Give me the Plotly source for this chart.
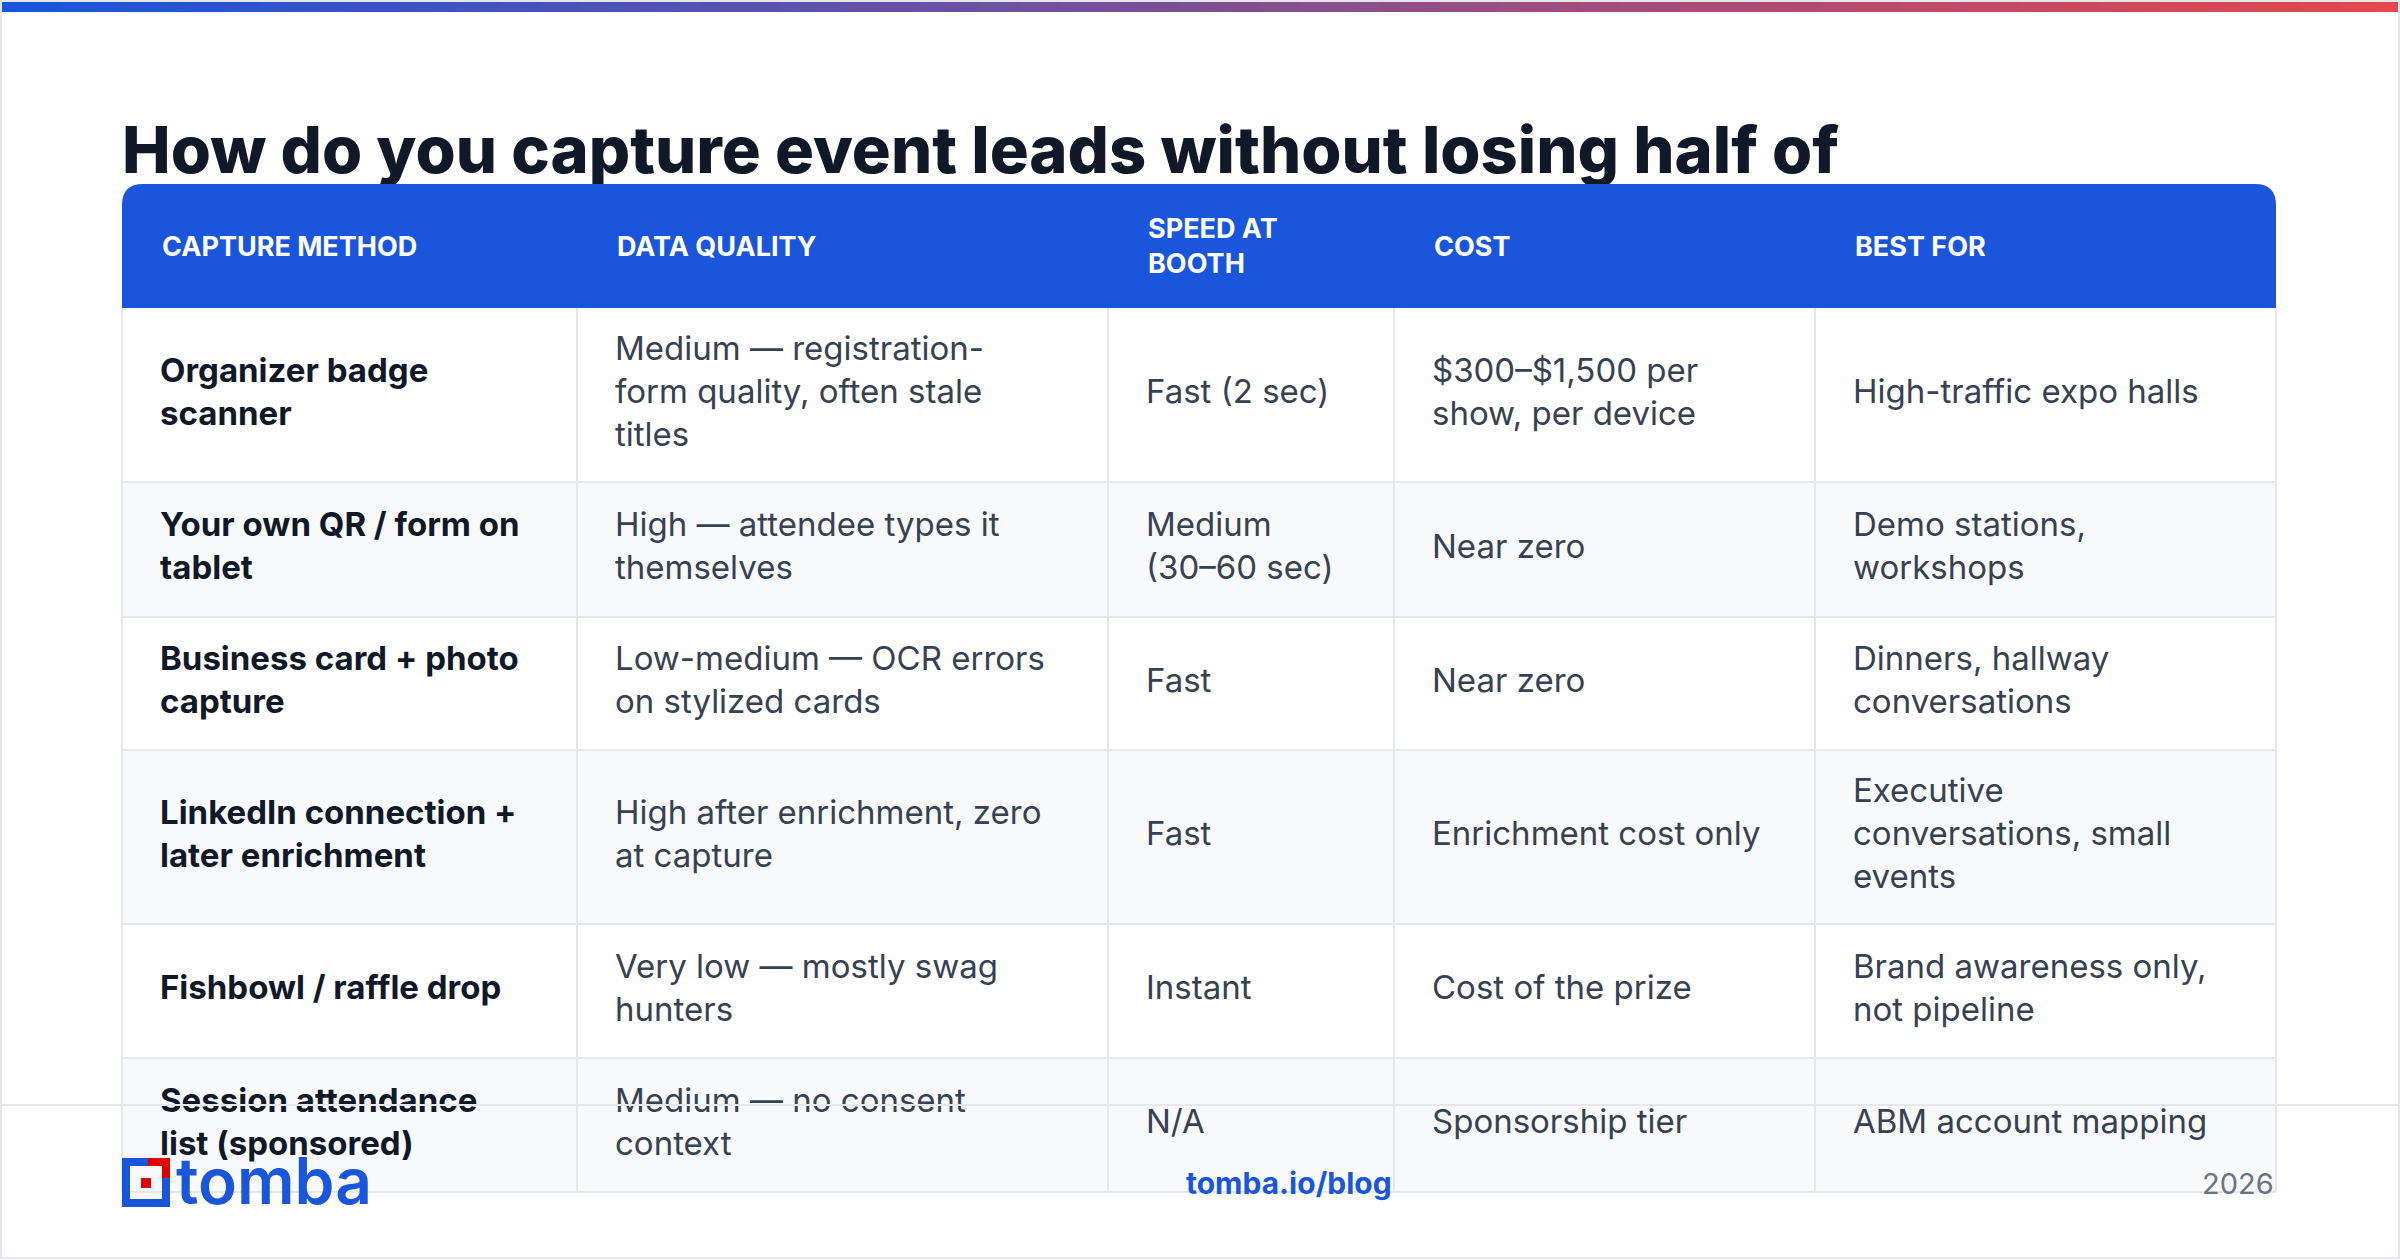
import plotly.graph_objects as go

W, H = 2400, 1260
title = "How do you capture event leads without losing half of"
headers = ["CAPTURE METHOD", "DATA QUALITY", "SPEED AT<br>BOOTH", "COST", "BEST FOR"]
methods = ["Organizer badge<br>scanner", "Your own QR / form on<br>tablet", "Business card + photo<br>capture",
           "LinkedIn connection +<br>later enrichment", "Fishbowl / raffle drop", "Session attendance<br>list (sponsored)"]
quality = ["Medium — registration-<br>form quality, often stale<br>titles", "High — attendee types it<br>themselves",
           "Low-medium — OCR errors<br>on stylized cards", "High after enrichment, zero<br>at capture",
           "Very low — mostly swag<br>hunters", "Medium — no consent<br>context"]
speed = ["Fast (2 sec)", "Medium<br>(30–60 sec)", "Fast", "Fast", "Instant", "N/A"]
cost = ["$300–$1,500 per<br>show, per device", "Near zero", "Near zero", "Enrichment cost only",
        "Cost of the prize", "Sponsorship tier"]
best_for = ["High-traffic expo halls", "Demo stations,<br>workshops", "Dinners, hallway<br>conversations",
            "Executive<br>conversations, small<br>events", "Brand awareness only,<br>not pipeline", "ABM account mapping"]
footer_link = "tomba.io/blog"
footer_year = "2026"

col_x = [122, 577, 1108, 1394, 1815, 2276]
row_y = [308, 482, 617, 750, 924, 1058, 1192]
head_top = 184
pad = 38
FONT = "Inter, Noto Sans, sans-serif"

fig = go.Figure()
shapes = []
n = 120
c0, c1 = (26, 86, 219), (229, 72, 77)
for i in range(n):
    t = i / (n - 1)
    c = tuple(int(c0[k] + (c1[k] - c0[k]) * t) for k in range(3))
    shapes.append(dict(type="rect", x0=W * i / n, x1=W * (i + 1) / n + 1, y0=0, y1=12,
                       fillcolor=f"rgb{c}", line_width=0, layer="below"))
for r in range(len(methods)):
    shapes.append(dict(type="rect", x0=col_x[0], x1=col_x[-1], y0=row_y[r], y1=row_y[r + 1],
                       fillcolor="#ffffff" if r % 2 == 0 else "#f8f9fb", line_width=0, layer="below"))
for y in row_y[1:]:
    shapes.append(dict(type="line", x0=col_x[0], x1=col_x[-1], y0=y, y1=y, line=dict(color="#e5e7eb", width=2), layer="below"))
for x in col_x:
    shapes.append(dict(type="line", x0=x, x1=x, y0=row_y[0], y1=row_y[-1], line=dict(color="#e5e7eb", width=2), layer="below"))
r = 21
x0, x1, y0, y1 = col_x[0], col_x[-1], head_top, row_y[0]
path = (f"M{x0},{y1} L{x0},{y0 + r} Q{x0},{y0} {x0 + r},{y0} L{x1 - r},{y0} "
        f"Q{x1},{y0} {x1},{y0 + r} L{x1},{y1} Z")
shapes.append(dict(type="path", path=path, fillcolor="#1a56db", line_width=0, layer="above"))
shapes.append(dict(type="line", x0=0, x1=W, y0=1105, y1=1105, line=dict(color="#e5e7eb", width=2), layer="above"))
shapes.append(dict(type="rect", x0=1, x1=W - 1, y0=1, y1=H - 2, line=dict(color="#e5e7eb", width=2), layer="above"))
B, R = "#1a56db", "#e00000"
shapes += [
    dict(type="rect", x0=122, x1=130, y0=1158, y1=1207, fillcolor=B, line_width=0, layer="above"),
    dict(type="rect", x0=122, x1=170, y0=1199, y1=1207, fillcolor=B, line_width=0, layer="above"),
    dict(type="rect", x0=162, x1=170, y0=1172, y1=1207, fillcolor=B, line_width=0, layer="above"),
    dict(type="rect", x0=122, x1=148, y0=1158, y1=1166, fillcolor=B, line_width=0, layer="above"),
    dict(type="rect", x0=148, x1=170, y0=1158, y1=1166, fillcolor=R, line_width=0, layer="above"),
    dict(type="rect", x0=162, x1=170, y0=1158, y1=1178, fillcolor=R, line_width=0, layer="above"),
    dict(type="rect", x0=141, x1=151, y0=1178, y1=1188, fillcolor=R, line_width=0, layer="above"),
]

fig.add_trace(go.Scatter(x=[122], y=[157], text=[title], mode="text", textposition="middle right",
                         textfont=dict(family=FONT, size=65, color="#111827", weight=800), hoverinfo="skip"))
cols = [methods, quality, speed, cost, best_for]
for ci, vals in enumerate(cols):
    ys = [(row_y[i] + row_y[i + 1]) / 2 for i in range(len(vals))]
    fig.add_trace(go.Scatter(x=[col_x[ci] + pad] * len(vals), y=ys, text=vals, mode="text",
                             textposition="middle right", hoverinfo="skip",
                             textfont=dict(family=FONT, size=33, weight=700 if ci == 0 else 400,
                                           color="#111827" if ci == 0 else "#374151")))

ann = []
for ci, h in enumerate(headers):
    ann.append(dict(x=col_x[ci] + pad, y=(head_top + row_y[0]) / 2, text=f"<b>{h}</b>", showarrow=False,
                    xanchor="left", yanchor="middle", align="left",
                    font=dict(family=FONT, size=27, color="#ffffff")))
ann.append(dict(x=174, y=1180, text="tomba", showarrow=False, xanchor="left", yanchor="middle",
                font=dict(family=FONT, size=64, color="#1a56db", weight=600)))
ann.append(dict(x=1289, y=1183, text=f"<b>{footer_link}</b>", showarrow=False, xanchor="center", yanchor="middle",
                font=dict(family=FONT, size=30, color="#1a56db")))
ann.append(dict(x=2276, y=1183, text=footer_year, showarrow=False, xanchor="right", yanchor="middle",
                font=dict(family=FONT, size=29, color="#6b7280")))

fig.update_layout(width=W, height=H, margin=dict(l=0, r=0, t=0, b=0), paper_bgcolor="#ffffff",
                  plot_bgcolor="#ffffff", showlegend=False, shapes=shapes, annotations=ann,
                  xaxis=dict(range=[0, W], visible=False, fixedrange=True),
                  yaxis=dict(range=[H, 0], visible=False, fixedrange=True))
fig.write_html("out.html", config={"displayModeBar": False},
               post_script="document.body.style.margin='0';document.body.style.overflow='hidden';")
